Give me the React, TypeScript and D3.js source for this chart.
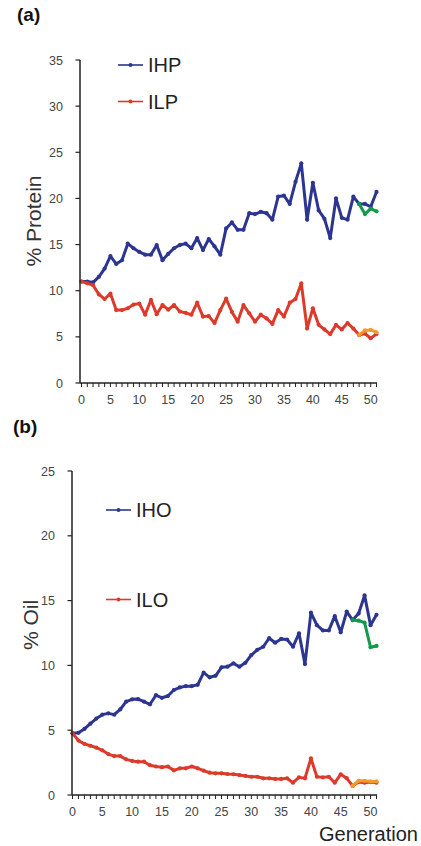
import React from 'react';
import * as d3 from 'd3';

// ---------- data ----------
const generations = [
  0, 1, 2, 3, 4, 5, 6, 7, 8, 9, 10, 11, 12, 13, 14, 15, 16, 17, 18, 19, 20, 21, 22, 23, 24, 25,
  26, 27, 28, 29, 30, 31, 32, 33, 34, 35, 36, 37, 38, 39, 40, 41, 42, 43, 44, 45, 46, 47, 48, 49, 50, 51,
];

const ihp = [
  11.0, 11.0, 10.9, 11.5, 12.4, 13.75, 12.9, 13.3, 15.1, 14.6, 14.2, 13.9, 13.9, 14.95, 13.3, 14.0,
  14.6, 14.95, 15.1, 14.6, 15.7, 14.4, 15.6, 14.8, 13.9, 16.75, 17.4, 16.6, 16.6, 18.4, 18.3, 18.55,
  18.4, 17.7, 20.2, 20.3, 19.4, 21.8, 23.8, 17.7, 21.7, 18.7, 17.8, 15.7, 20.0, 17.9, 17.7, 20.2,
  19.4, 19.4, 19.1, 20.7,
];
const ilp = [
  11.0, 10.8, 10.6, 9.6, 9.1, 9.7, 7.9, 7.9, 8.1, 8.5, 8.6, 7.4, 9.0, 7.45, 8.45, 7.95, 8.45, 7.75,
  7.6, 7.4, 8.7, 7.2, 7.25, 6.5, 7.9, 9.15, 7.7, 6.65, 8.45, 7.55, 6.65, 7.4, 7.0, 6.4, 7.9, 7.2,
  8.7, 9.1, 10.8, 5.9, 8.1, 6.3, 5.8, 5.3, 6.3, 5.8, 6.5, 5.9, 5.2, 5.35, 4.85, 5.3,
];
const proteinLateGenerations = [48, 49, 50, 51];
const ihpLate = [19.4, 18.3, 18.9, 18.6];
const ilpLate = [5.2, 5.7, 5.75, 5.5];

const iho = [
  4.76, 4.8, 5.1, 5.5, 5.9, 6.2, 6.3, 6.2, 6.6, 7.2, 7.38, 7.4, 7.2, 7.0, 7.7, 7.5, 7.64, 8.1, 8.3,
  8.4, 8.4, 8.5, 9.44, 9.08, 9.2, 9.85, 9.9, 10.16, 9.9, 10.2, 10.8, 11.2, 11.44, 12.1, 11.75, 12.04,
  12.0, 11.44, 12.48, 10.1, 14.07, 13.1, 12.7, 12.7, 13.8, 12.55, 14.15, 13.5, 14.0, 15.4, 13.1, 13.9,
];
const ilo = [
  4.76, 4.2, 3.95, 3.8, 3.65, 3.45, 3.16, 3.0, 3.0, 2.75, 2.63, 2.57, 2.57, 2.3, 2.2, 2.15, 2.2, 1.9,
  2.06, 2.06, 2.2, 2.06, 1.88, 1.72, 1.67, 1.67, 1.62, 1.6, 1.54, 1.47, 1.41, 1.41, 1.29, 1.29, 1.24,
  1.24, 1.29, 0.95, 1.36, 1.29, 2.83, 1.41, 1.36, 1.41, 0.95, 1.6, 1.3, 0.7, 1.0, 0.95, 1.0, 0.95,
];
const oilLateGenerations = [47, 48, 49, 50, 51];
const ihoLate = [13.5, 13.45, 13.3, 11.4, 11.5];
const iloLate = [0.7, 1.1, 1.1, 1.05, 1.05];

const proteinTicks = [0, 5, 10, 15, 20, 25, 30, 35];
const oilTicks = [0, 5, 10, 15, 20, 25];
const generationTicks = [0, 5, 10, 15, 20, 25, 30, 35, 40, 45, 50];

// ---------- style ----------
const FONT = '"Liberation Sans", Arial, Helvetica, sans-serif';
const BLUE = '#2c3590';
const RED = '#dc3a2b';
const GREEN = '#13994a';
const ORANGE = '#f39a2c';

type Series = { xs: number[]; ys: number[]; color: string };

function Panel(props: {
  axisX: number;
  x0: number;
  x1: number;
  axisEnd: number;
  yBottom: number;
  yTop: number;
  yMax: number;
  yTicks: number[];
  series: Series[];
}) {
  const { axisX, x0, x1, axisEnd, yBottom, yTop, yMax, yTicks, series } = props;
  const x = d3.scaleLinear().domain([0, 51]).range([x0, x1]);
  const y = d3.scaleLinear().domain([0, yMax]).range([yBottom, yTop]);
  const line = d3
    .line<[number, number]>()
    .x((d) => x(d[0]))
    .y((d) => y(d[1]));
  return (
    <g>
      {series.map((s, i) => {
        const pts: [number, number][] = s.xs.map((g, j) => [g, s.ys[j]]);
        return (
          <g key={i}>
            <path d={line(pts) || ''} fill="none" stroke={s.color} strokeWidth={3} strokeLinejoin="round" />
            {pts.map((p, j) => (
              <circle key={j} cx={x(p[0])} cy={y(p[1])} r={2.1} fill={s.color} />
            ))}
          </g>
        );
      })}
      {/* y axis */}
      <line x1={axisX} x2={axisX} y1={y(yMax)} y2={yBottom} stroke="#222" strokeWidth={1.5} />
      {yTicks.map((t) => (
        <g key={t}>
          <line x1={axisX - 4.5} x2={axisX} y1={y(t)} y2={y(t)} stroke="#222" strokeWidth={1.2} />
          <text
            x={axisX - 17}
            y={y(t)}
            dy="0.36em"
            textAnchor="end"
            fontSize={12.5}
            fill="#444"
            fontFamily={FONT}
          >
            {t}
          </text>
        </g>
      ))}
      {/* x axis */}
      <line x1={axisX} x2={axisEnd} y1={yBottom} y2={yBottom} stroke="#222" strokeWidth={1.5} />
      {generations.map((g) => (
        <line key={g} x1={x(g)} x2={x(g)} y1={yBottom} y2={yBottom + 4} stroke="#222" strokeWidth={1} />
      ))}
      {generationTicks.map((g) => (
        <text
          key={g}
          x={x(g)}
          y={yBottom + 21}
          textAnchor="middle"
          fontSize={12.5}
          fill="#444"
          fontFamily={FONT}
        >
          {g}
        </text>
      ))}
    </g>
  );
}

function LegendItem(props: { x: number; y: number; color: string; label: string }) {
  const { x, y, color, label } = props;
  return (
    <g>
      <line x1={x} x2={x + 25} y1={y} y2={y} stroke={color} strokeWidth={1.6} />
      <circle cx={x + 12.5} cy={y} r={2} fill={color} />
      <text x={x + 30} y={y + 7} fontSize={20} fill="#222" fontFamily={FONT}>
        {label}
      </text>
    </g>
  );
}

export default function App() {
  return (
    <svg
      width={421}
      height={846}
      style={{ position: 'absolute', left: 0, top: 0, background: '#fff' }}
      fontFamily={FONT}
    >
      <rect width={421} height={846} fill="#fff" />
      {/* Panel (a) */}
      <text x={17} y={21} fontSize={19} fontWeight="bold" fill="#111">
        (a)
      </text>
      <text transform="translate(41,221) rotate(-90)" textAnchor="middle" fontSize={21} fill="#333">
        % Protein
      </text>
      <Panel
        axisX={80}
        x0={81.5}
        x1={376.5}
        axisEnd={377}
        yBottom={383}
        yTop={60}
        yMax={35}
        yTicks={proteinTicks}
        series={[
          { xs: generations, ys: ihp, color: BLUE },
          { xs: generations, ys: ilp, color: RED },
          { xs: proteinLateGenerations, ys: ihpLate, color: GREEN },
          { xs: proteinLateGenerations, ys: ilpLate, color: ORANGE },
        ]}
      />
      <LegendItem x={118} y={65} color={BLUE} label="IHP" />
      <LegendItem x={118} y={101.5} color={RED} label="ILP" />

      {/* Panel (b) */}
      <text x={13} y={433} fontSize={19} fontWeight="bold" fill="#111">
        (b)
      </text>
      <text transform="translate(38,625) rotate(-90)" textAnchor="middle" fontSize={21} fill="#333">
        % Oil
      </text>
      <Panel
        axisX={72}
        x0={72.5}
        x1={376.5}
        axisEnd={377}
        yBottom={795}
        yTop={471}
        yMax={25}
        yTicks={oilTicks}
        series={[
          { xs: generations, ys: iho, color: BLUE },
          { xs: generations, ys: ilo, color: RED },
          { xs: oilLateGenerations, ys: ihoLate, color: GREEN },
          { xs: oilLateGenerations, ys: iloLate, color: ORANGE },
        ]}
      />
      <LegendItem x={106} y={510} color={BLUE} label="IHO" />
      <LegendItem x={106} y={599.5} color={RED} label="ILO" />
      <text x={418} y={841} textAnchor="end" fontSize={20} fill="#222">
        Generation
      </text>
    </svg>
  );
}
